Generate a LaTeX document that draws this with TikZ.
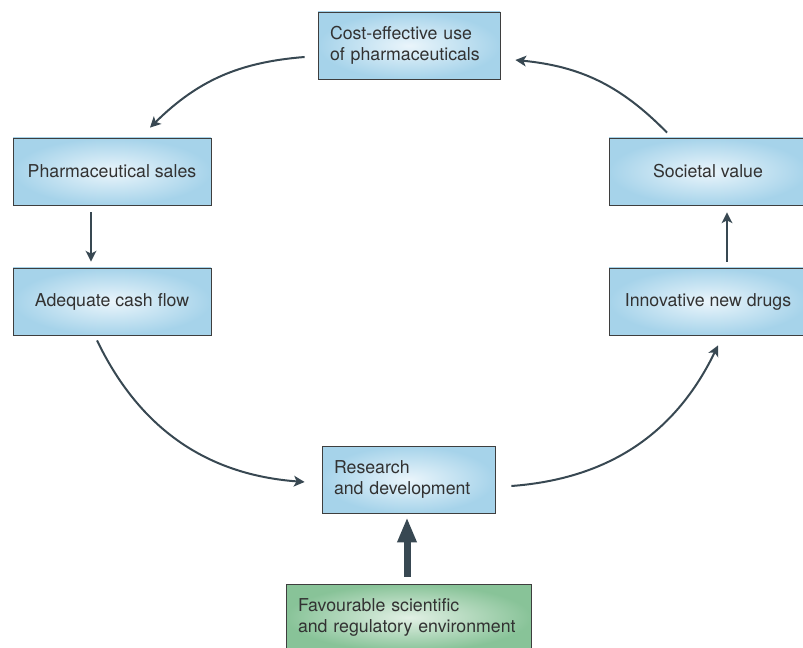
\documentclass[tikz,border=0pt]{standalone}
\usepackage{fontspec}
\setmainfont{TeX Gyre Heros}
\usetikzlibrary{arrows.meta,calc}
\definecolor{boxblue}{RGB}{166,211,234}
\definecolor{boxlight}{RGB}{234,245,251}
\definecolor{boxgreen}{RGB}{136,195,152}
\definecolor{greenlight}{RGB}{226,240,229}
\definecolor{pilgray}{RGB}{56,72,82}
\definecolor{edgegray}{RGB}{62,62,62}
\definecolor{textgray}{RGB}{50,50,50}
\tikzset{
    %Define standard arrow tip
    >={Stealth[length=8pt,width=8pt,inset=2pt]},
    % Define box style
    blok/.style={
           draw=edgegray,
           line width=0.6pt,
           shade,
           inner color=boxlight,
           outer color=boxblue,
           minimum height=50.25pt,
           inner sep=9pt,
           text=textgray,
           font=\fontsize{13.3}{15.5}\selectfont,
           },
    % Define green box style
    grunnblok/.style={
           blok,
           inner color=greenlight,
           outer color=boxgreen,
           },
    % Define arrow style
    pil/.style={
           ->,
           pilgray,
           line width=1.5pt,
           },
    tykkpil/.style={
           -{Triangle[length=18.75pt,width=13.5pt]},
           pilgray,
           line width=5.25pt,
}
}
\begin{document}
\begin{tikzpicture}[x=0.75pt,y=0.75pt]
  	\clip (0,0) rectangle (803,647);
  	\node[blok, text width=118.5pt, align=left] (cost) at (409,601.5) {Cost-effective use\\of pharmaceuticals};
  	\node[blok, minimum width=148.5pt] (sales) at (112,475.5) {Pharmaceutical sales};
  	\node[blok, minimum width=148.5pt] (cash) at (112,345.5) {Adequate cash flow};
  	\node[blok, minimum width=148.5pt] (value) at (708,475.5) {Societal value};
  	\node[blok, minimum width=148.5pt] (drugs) at (708,345.5) {Innovative new drugs};
  	\node[blok, text width=111.75pt, align=left] (rd) at (408.5,167.5) {Research\\and development};
  	\node[grunnblok, text width=165.75pt, align=left] (env) at (408.5,29.5) {Favourable scientific\\and regulatory environment};
%  	cycle of arrows
  	\draw [pil] ($(cost.west)+(-13,-11.5)$) to [bend right=20] ($(sales.north)+(38,10)$);
  	\draw [pil] ($(sales.south)+(-21,-7)$) -- ($(cash.north)+(-21,6)$);
  	\draw [pil] ($(cash.south)+(-15,-5)$) to [bend right=30] ($(rd.west)+(-17,-2.5)$);
  	\draw [pil] ($(rd.east)+(16,-6.5)$) to [bend right=30] ($(drugs.south)+(10,-10)$);
  	\draw [pil] ($(drugs.north)+(19,6)$) -- ($(value.south)+(19,-7)$);
  	\draw [pil] ($(value.north)+(-41,5)$) to [bend right=20] ($(cost.east)+(15,-14.5)$);
  	\draw [tykkpil] ($(env.north)+(-1.5,7)$) -- ($(rd.south)+(-1.5,-4)$);
\end{tikzpicture}
\end{document}
